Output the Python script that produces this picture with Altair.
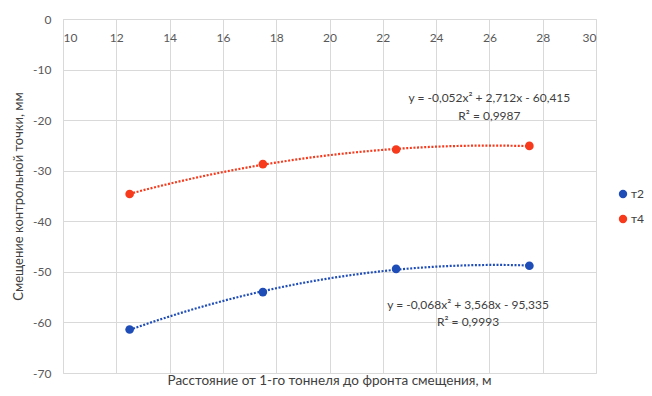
import altair as alt
import pandas as pd

dist = [12.5, 17.5, 22.5, 27.5]
t2 = [-61.4, -54.0, -49.4, -48.8]
t4 = [-34.6, -28.7, -25.8, -25.1]
series_names = ["т2", "т4"]
colors = ["#1F4DB8", "#F7391C"]
x_ticks = list(range(10, 31, 2))
y_ticks = list(range(-70, 1, 10))

eq_text = ["y = -0,052x² + 2,712x - 60,415", "R² = 0,9987",
           "y = -0,068x² + 3,568x - 95,335", "R² = 0,9993"]
eq_x = [26.0, 26.0, 25.2, 25.2]
eq_y = [-15.6, -19.2, -56.6, -59.9]

x_title = "Расстояние от 1-го тоннеля до фронта смещения, м"
y_title = "Смещение контрольной точки, мм"

W, H = 533, 354
FONT = "Lato"

rows = []
for name, vals in zip(series_names, [t2, t4]):
    for xv, yv in zip(dist, vals):
        rows.append({"x": xv, "y": yv, "s": name})
df = pd.DataFrame(rows)
ann = pd.DataFrame({"x": eq_x, "y": eq_y, "t": eq_text})

xs = alt.Scale(domain=[10, 30], nice=False, zero=False)
ys = alt.Scale(domain=[-70, 0], nice=False, zero=False)
cs = alt.Scale(domain=series_names, range=colors)

legend = alt.Legend(
    title=None, orient="none", legendX=554, legendY=169,
    symbolType="circle", symbolSize=70, labelFontSize=12,
    labelFont=FONT, labelColor="#404040", rowPadding=13, padding=0,
    labelOffset=2, symbolStrokeWidth=0)

x_axis = alt.Axis(values=x_ticks, orient="bottom", offset=-H, title=None,
                  domain=False, ticks=False, labelPadding=13, labelFontSize=12,
                  labelColor="#595959", labelFont=FONT, grid=True,
                  gridColor="#D9D9D9", gridWidth=1)
y_axis = alt.Axis(values=y_ticks, title=y_title, domain=False, ticks=False,
                  labelPadding=12, labelFontSize=12, labelColor="#595959",
                  labelFont=FONT, labelExpr="toString(datum.value)",
                  titleFont=FONT, titleFontSize=13, titleFontWeight="normal",
                  titleColor="#404040", titlePadding=7, grid=True,
                  gridColor="#D9D9D9", gridWidth=1)

base = alt.Chart(df)

lines = base.transform_regression(
    "x", "y", groupby=["s"], method="poly", order=2, extent=[12.5, 27.5]
).mark_line(strokeDash=[2, 1.6], strokeWidth=2.2).encode(
    x=alt.X("x:Q", scale=xs, axis=x_axis),
    y=alt.Y("y:Q", scale=ys, axis=y_axis),
    color=alt.Color("s:N", scale=cs, legend=legend),
)

points = base.mark_circle(size=75, opacity=1).encode(
    x=alt.X("x:Q", scale=xs),
    y=alt.Y("y:Q", scale=ys),
    color=alt.Color("s:N", scale=cs, legend=legend),
)

texts = alt.Chart(ann).mark_text(fontSize=12, font=FONT, color="#404040",
                                 align="center", baseline="middle").encode(
    x=alt.X("x:Q", scale=xs),
    y=alt.Y("y:Q", scale=ys),
    text="t:N",
)

chart = alt.layer(lines, points, texts).properties(
    width=W, height=H,
    title=alt.TitleParams(x_title, orient="bottom", anchor="middle",
                          frame="group", fontSize=13.5, fontWeight="normal",
                          font=FONT, color="#404040", offset=-5),
    autosize=alt.AutoSizeParams(type="none"),
    padding={"left": 55, "top": 11, "right": 48, "bottom": 15},
).configure_view(stroke=None).configure(background="white")

chart.save("out.html", embed_options={"renderer": "svg", "actions": False})
